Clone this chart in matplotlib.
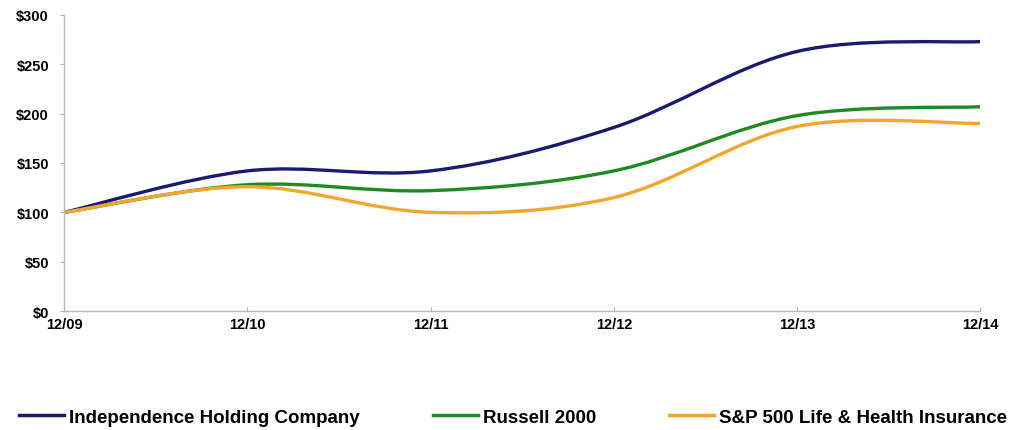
import matplotlib
matplotlib.use("Agg")
import matplotlib.pyplot as plt
from matplotlib.path import Path
from matplotlib.patches import PathPatch
from matplotlib.lines import Line2D
from matplotlib.ticker import FuncFormatter

plt.rcParams['font.family'] = ['Liberation Sans', 'DejaVu Sans']

categories = ["12/09", "12/10", "12/11", "12/12", "12/13", "12/14"]
independence = [100, 142, 142, 186, 263, 273]
russell = [100, 128, 122, 142, 198, 207]
sp500_lh = [100, 126, 100, 115, 187, 190]
series_names = ["Independence Holding Company", "Russell 2000",
                "S&P 500 Life & Health Insurance"]
y_ticks = [0, 50, 100, 150, 200, 250, 300]

colors = ["#1A1A70", "#1F8A24", "#F2A62E"]


def smooth_path(xs, ys, t=1/6):
    verts = [(xs[0], ys[0])]
    codes = [Path.MOVETO]
    n = len(xs)
    for i in range(n - 1):
        x0, y0 = (xs[i - 1], ys[i - 1]) if i > 0 else (xs[i], ys[i])
        x1, y1 = xs[i], ys[i]
        x2, y2 = xs[i + 1], ys[i + 1]
        x3, y3 = (xs[i + 2], ys[i + 2]) if i + 2 < n else (xs[i + 1], ys[i + 1])
        c1 = (x1 + (x2 - x0) * t, y1 + (y2 - y0) * t)
        c2 = (x2 - (x3 - x1) * t, y2 - (y3 - y1) * t)
        verts += [c1, c2, (x2, y2)]
        codes += [Path.CURVE4] * 3
    return Path(verts, codes)


fig = plt.figure(figsize=(10.2, 4.31), dpi=100)
ax = fig.add_axes([0.063, 0.276, 0.898, 0.687])

xs = list(range(len(categories)))
for vals, c in zip([independence, russell, sp500_lh], colors):
    p = smooth_path(xs, vals)
    ax.add_patch(PathPatch(p, facecolor='none', edgecolor=c, lw=2.4,
                           capstyle='butt', joinstyle='round'))

ax.set_xlim(0, len(categories) - 1)
ax.set_ylim(0, 300)
ax.set_xticks(xs)
ax.set_xticklabels(categories, fontsize=10.5, fontweight='bold')
ax.set_yticks(y_ticks)
ax.yaxis.set_major_formatter(FuncFormatter(lambda v, p: f"${v:.0f}"))
for lab in ax.get_yticklabels():
    lab.set_fontweight('bold')
    lab.set_fontsize(10.5)
ax.tick_params(axis='y', length=3, color='#B0B0B0', pad=8)
ax.tick_params(axis='x', length=3, direction='in', color='#B0B0B0', pad=4)
for s in ['top', 'right']:
    ax.spines[s].set_visible(False)
for s in ['left', 'bottom']:
    ax.spines[s].set_color('#B8B8B8')
    ax.spines[s].set_linewidth(1.0)

handles = [Line2D([0], [0], color=c, lw=2.5) for c in colors]
fig.legend(handles, series_names, loc='center', bbox_to_anchor=(0.503, 0.03),
           ncol=3, frameon=False, handlelength=2.4, handletextpad=0.25,
           columnspacing=3.9, prop={'weight': 'bold', 'size': 13.5})

fig.savefig("out.png", dpi=100)
